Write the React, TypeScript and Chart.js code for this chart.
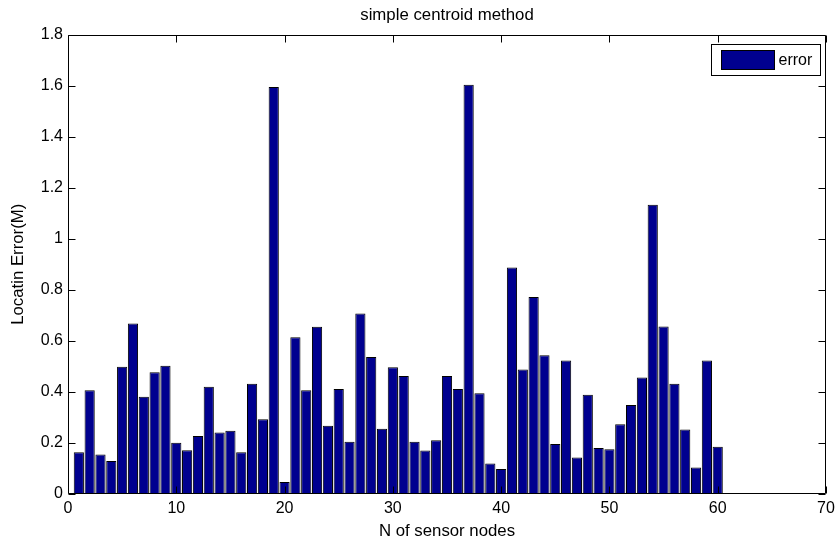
import React, { useEffect, useRef } from "react";
import { Chart, registerables } from "chart.js";

Chart.register(...registerables);

const nodeIds: number[] = Array.from({ length: 60 }, (_, i) => i + 1);
const errors: number[] = [
  0.164, 0.406, 0.155, 0.129, 0.498, 0.668, 0.381, 0.477, 0.502, 0.201,
  0.171, 0.227, 0.420, 0.241, 0.248, 0.164, 0.432, 0.293, 1.594, 0.047,
  0.614, 0.406, 0.655, 0.267, 0.411, 0.205, 0.707, 0.537, 0.256, 0.497,
  0.462, 0.205, 0.170, 0.211, 0.462, 0.411, 1.603, 0.395, 0.119, 0.098,
  0.887, 0.488, 0.772, 0.544, 0.196, 0.523, 0.143, 0.389, 0.180, 0.175,
  0.273, 0.349, 0.456, 1.133, 0.656, 0.432, 0.253, 0.104, 0.523, 0.185,
];
const xTicks: number[] = [0, 10, 20, 30, 40, 50, 60, 70];
const yTicks: number[] = [0, 0.2, 0.4, 0.6, 0.8, 1, 1.2, 1.4, 1.6, 1.8];
const seriesLabel = "error";
const chartTitle = "simple centroid method";
const xTitle = "N of sensor nodes";
const yTitle = "Locatin Error(M)";

const BAR_COLOR = "#00008F";
const FONT = "Arial, 'Liberation Sans', sans-serif";

const framePlugin = {
  id: "frameTicks",
  afterDatasetsDraw(chart: any) {
    const { ctx, chartArea: a, scales } = chart;
    const L = Math.round(a.left) + 0.5;
    const R = Math.round(a.right) - 0.5;
    const T = Math.round(a.top) + 0.5;
    const B = Math.round(a.bottom) - 0.5;
    const tl = 7;
    ctx.save();
    ctx.strokeStyle = "#000";
    ctx.lineWidth = 1;
    ctx.beginPath();
    ctx.rect(L, T, R - L, B - T);
    xTicks.forEach((v) => {
      const px = Math.round(scales.x.getPixelForValue(v)) + 0.5;
      ctx.moveTo(px, B);
      ctx.lineTo(px, B - tl);
      ctx.moveTo(px, T);
      ctx.lineTo(px, T + tl);
    });
    yTicks.forEach((v) => {
      const py = Math.round(scales.y.getPixelForValue(v)) + 0.5;
      ctx.moveTo(L, py);
      ctx.lineTo(L + tl, py);
      ctx.moveTo(R, py);
      ctx.lineTo(R - tl, py);
    });
    ctx.stroke();

    // legend box
    const lx = Math.round(a.right) - 115 + 0.5;
    const ly = Math.round(a.top) + 9 + 0.5;
    const lw = 109;
    const lh = 31;
    ctx.fillStyle = "#fff";
    ctx.fillRect(lx, ly, lw, lh);
    ctx.strokeRect(lx, ly, lw, lh);
    const ds = chart.data.datasets[0];
    ctx.fillStyle = ds.backgroundColor;
    ctx.fillRect(lx + 10, ly + 6, 53, 19);
    ctx.strokeStyle = "#000";
    ctx.strokeRect(lx + 10, ly + 6, 53, 19);
    ctx.fillStyle = "#000";
    ctx.font = `16px ${FONT}`;
    ctx.textBaseline = "middle";
    ctx.textAlign = "left";
    ctx.fillText(ds.label, lx + 67, ly + lh / 2 + 1);
    ctx.restore();
  },
};

export default function App() {
  const ref = useRef<HTMLCanvasElement | null>(null);
  useEffect(() => {
    if (!ref.current) return;
    const chart = new Chart(ref.current, {
      type: "bar",
      data: {
        datasets: [
          {
            label: seriesLabel,
            data: nodeIds.map((x, i) => ({ x, y: errors[i] })),
            backgroundColor: BAR_COLOR,
            borderColor: "#000",
            borderWidth: 1,
            borderSkipped: false,
            categoryPercentage: 1,
            barPercentage: 0.94,
          } as any,
        ],
      },
      options: {
        responsive: false,
        animation: false,
        layout: { padding: { left: 0, right: 11, top: 0, bottom: 0 } },
        plugins: {
          legend: { display: false },
          tooltip: { enabled: false },
          title: {
            display: true,
            text: chartTitle,
            fullSize: false,
            color: "#000",
            font: { family: FONT, size: 16.8, weight: "normal", lineHeight: 1.2 },
            padding: { top: 5.5, bottom: 8.84 },
          },
        },
        scales: {
          x: {
            type: "linear",
            min: 0,
            max: 70,
            offset: false,
            grid: { display: false, drawTicks: false, offset: false },
            border: { display: false },
            afterBuildTicks: (s: any) => {
              s.ticks = xTicks.map((v) => ({ value: v }));
            },
            afterFit: (s: any) => {
              s.height = 51;
              s.paddingLeft = 0;
              s.paddingRight = 0;
            },
            ticks: {
              padding: 5,
              color: "#000",
              font: { family: FONT, size: 16 },
              maxRotation: 0,
              callback: (v: any) => String(v),
            },
            title: {
              display: true,
              text: xTitle,
              color: "#000",
              font: { family: FONT, size: 16.8, lineHeight: 1.2 },
              padding: { top: 0, bottom: 4 },
            },
          },
          y: {
            type: "linear",
            min: 0,
            max: 1.8,
            grid: { display: false, drawTicks: false },
            border: { display: false },
            afterBuildTicks: (s: any) => {
              s.ticks = yTicks.map((v) => ({ value: v }));
            },
            afterFit: (s: any) => {
              s.width = 68;
              s.paddingTop = 0;
              s.paddingBottom = 0;
            },
            ticks: {
              padding: 5,
              color: "#000",
              font: { family: FONT, size: 16 },
              callback: (v: any) => String(Math.round(Number(v) * 10) / 10),
            },
            title: {
              display: true,
              text: yTitle,
              color: "#000",
              font: { family: FONT, size: 16.8, lineHeight: 1.2 },
              padding: { top: 8.5, bottom: 0 },
            },
          },
        },
      },
      plugins: [framePlugin],
    } as any);
    return () => chart.destroy();
  }, []);
  return (
    <div style={{ position: "fixed", left: 0, top: 0, width: 837, height: 545, background: "#fff" }}>
      <canvas ref={ref} width={837} height={545} style={{ width: 837, height: 545, display: "block" }} />
    </div>
  );
}
